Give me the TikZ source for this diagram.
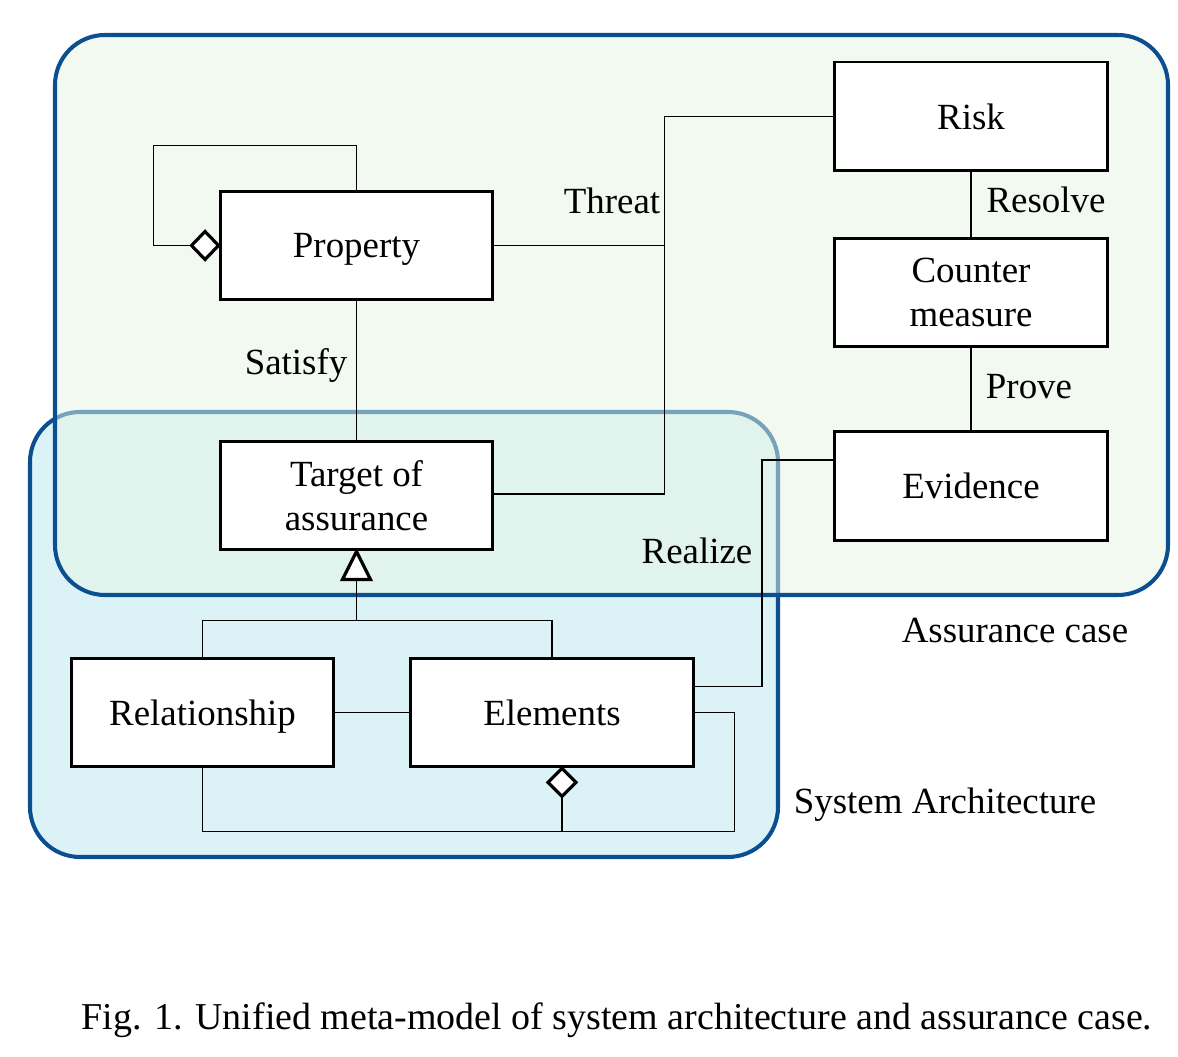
\documentclass[tikz,border=0pt]{standalone}
\usepackage{fontspec}
\setmainfont{Liberation Serif}
\usetikzlibrary{calc}
\definecolor{frameblue}{RGB}{11,79,145}
\definecolor{sysfill}{RGB}{219,243,247}
\definecolor{acfill}{RGB}{229,243,227}
\tikzset{
  box/.style={draw=black, fill=white, line width=1.7pt, align=center, inner sep=0pt,
              minimum width=5.46cm, minimum height=2.18cm, font=\fontsize{21}{25}\selectfont},
  oneline/.style={text depth=0pt},
  conn/.style={draw=black, line width=0.8pt},
  dia/.style={draw=black, fill=white, line width=1.8pt, line join=miter},
  lbl/.style={font=\fontsize{21}{25}\selectfont, inner sep=0pt},
  region/.style={draw=frameblue, line width=2.3pt, rounded corners=1cm}
}
\begin{document}
\begin{tikzpicture}[x=0.02cm, y=-0.02cm]
\useasboundingbox (0,0) rectangle (1178,1057);
% regions
\path[region, fill=sysfill] (30,412) rectangle (778,857);
\path[region, fill=acfill, fill opacity=0.5] (55,35) rectangle (1168,595);
% nodes
\node[box, oneline] (risk) at (971,116.5) {Risk};
\node[box] (cm) at (971,292.5) {Counter\\measure};
\node[box, oneline] (ev) at (971,486) {Evidence};
\node[box, oneline] (prop) at (356.5,245.5) {Property};
\node[box] (tgt) at (356.5,495.5) {Target of\\assurance};
\node[box, oneline, minimum width=5.26cm] (rel) at (202.5,712.5) {Relationship};
\node[box, oneline, minimum width=5.68cm] (elem) at (552,712.5) {Elements};
% property self aggregation
\coordinate (pd) at ($(prop.west)+(-27,0)$);
\draw[conn] (prop.north) |- ++(-203,-44) |- (pd);
\draw[dia] (prop.west) -- ++(-13.5,-14) -- ++(-13.5,14) -- ++(13.5,14) -- cycle;
% threat
\coordinate (tj) at ($(tgt.east)+(170,-1.5)$);
\draw[conn] (risk.west) -| (tj) -- ($(tgt.east)+(0,-1.5)$);
\draw[conn] (prop.east) -- (prop.east -| tj);
% resolve, prove, satisfy
\draw[conn] (risk.south) -- (cm.north);
\draw[conn] (cm.south) -- (ev.north);
\draw[conn] (prop.south) -- (tgt.north);
% realize
\draw[conn] ($(ev.west)+(0,-26)$) -- ++(-71,0) |- ($(elem.east)+(0,-26)$);
% generalization
\coordinate (tb) at ($(tgt.south)+(0,28)$);
\coordinate (gj) at ($(tb)+(0,41)$);
\draw[conn] (tb) -- (gj);
\draw[conn] (rel.north) |- (gj) -| (elem.north);
\draw[dia] (tgt.south) -- ++(14,28) -- ++(-28,0) -- cycle;
% relationship - elements
\draw[conn] (rel.east) -- (elem.west);
% elements aggregation
\coordinate (ed) at ($(elem.south)+(10,0)$);
\coordinate (edb) at ($(ed)+(0,28)$);
\coordinate (bj) at ($(edb)+(0,35)$);
\draw[conn] (edb) -- (bj);
\draw[conn] (rel.south) |- (bj);
\draw[conn] (elem.east) -- ++(39,0) |- (bj);
\draw[dia] (ed) -- ++(14,14) -- ++(-14,14) -- ++(-14,-14) -- cycle;
% labels
\node[lbl] (lthreat) at (612,201) {Threat};
\node[lbl] (lresolve) at (1046,200) {Resolve};
\node[lbl] (lsatisfy) at (296,365) {Satisfy};
\node[lbl] (lprove) at (1029,387) {Prove};
\node[lbl] (lrealize) at (697,551) {Realize};
\node[lbl] (lac) at (1015,631) {Assurance case};
\node[lbl] (lsa) at (945,805) {System Architecture};
\node[lbl, font=\fontsize{21.6}{25}\selectfont] (cap) at (617,1020) {Fig. 1. Unified meta-model of system architecture and assurance case.};
\end{tikzpicture}
\end{document}
